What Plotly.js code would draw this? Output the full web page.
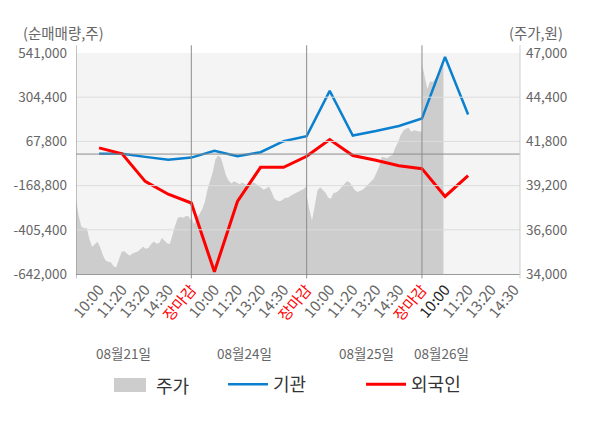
<!DOCTYPE html>
<html>
<head>
<meta charset="utf-8">
<script src="https://cdn.plot.ly/plotly-3.0.1.min.js"></script>
<style>
html, body { margin: 0; padding: 0; background: #fff; }
#chart { width: 600px; height: 428px; }
</style>
</head>
<body>
<div id="chart"></div>
<script>
// trading days and time labels on the x axis
var dayLabels = ['08월21일', '08월24일', '08월25일', '08월26일'];
var dayLabelPos = [0.41, 1.46, 2.52, 3.17];
var timeLabels = ['10:00', '11:20', '13:20', '14:30', '장마감'];

// intraday stock price (원), one array per day
var price0821 = [38400, 37420, 36780, 36690, 36700, 36050, 35610, 35750, 35900, 35580, 35120,
    34810, 34715, 34690, 34450, 34390, 34820, 35310, 35340, 35230, 35080, 35200, 35260, 35320,
    35450, 35600, 35490, 35530, 35750, 35910, 35800, 35810, 36120, 35980, 35810, 35770, 36340,
    36870, 37310, 37350, 37310, 37410, 37390, 37100];
var price0824 = [37420, 36930, 37330, 37500, 37800, 38200, 38960, 39480, 40000, 40750, 40970,
    40860, 40350, 39760, 39470, 39320, 39460, 39380, 39280, 39380, 39280, 39190, 39250, 39380,
    39320, 39170, 39090, 38950, 39040, 39140, 38800, 38420, 38310, 38280, 38350, 38490, 38490,
    38610, 38690, 38770, 38850, 38930, 39020, 39180];
var price0825 = [38600, 37810, 37150, 38000, 38900, 39110, 38920, 38790, 38500, 38430, 38770,
    38800, 38920, 39080, 39270, 39450, 39400, 39160, 38930, 38820, 38900, 38970, 39120, 39280,
    39440, 39610, 39940, 40310, 40900, 40860, 40810, 40930, 40980, 41430, 41720, 42150, 42430,
    42540, 42600, 42370, 42450, 42420, 42380, 42400];
var price0826 = [46400, 45600, 44880, 45330, 45300, 45500, 45700, 46100, 46400];

// net buying volume (주) at each time label
var instNet = [2000, 2000, -15000, -30000, -19000, 17000, -12000, 10000, 69000, 96000,
    338000, 99000, 123000, 150000, 191000, 520000, 212000];
var foreignNet = [33000, 1000, -146000, -215000, -262000, -630000, -254000, -71000, -71000,
    -12000, 78000, -8000, -33000, -62000, -78000, -227000, -116000];

var leftTicks = [-642000, -405400, -168800, 67800, 304400, 541000];
var rightTicks = [34000, 36600, 39200, 41800, 44400, 47000];

var fontFam = "'Noto Sans CJK KR', 'Noto Sans', sans-serif";
var xMax = 3.85;
var priceColor = '#cdcdcd';

// price area x positions: each full day spans one unit
var priceDays = [price0821, price0824, price0825, price0826];
var stepsPerDay = price0821.length - 1;
var priceX = [], priceY = [];
for (let d = 0; d < priceDays.length; d++) {
    for (let i = 0; i < priceDays[d].length; i++) {
        priceX.push(d + i / stepsPerDay);
        priceY.push(priceDays[d][i]);
    }
}

// tick labels, 장마감 sits on the day boundary
var tickVals = [], tickText = [];
for (let d = 0; d < dayLabels.length; d++) {
    for (let k = 0; k < timeLabels.length; k++) {
        var pos = d + (k + 1) / timeLabels.length;
        if (pos > xMax) continue;
        var txt = timeLabels[k];
        if (txt == '장마감') {
            txt = '<span style="color:#ff0000">' + txt + '</span>';
        } else if (d == dayLabels.length - 1 && k == 0) {
            txt = '<span style="color:#222">' + txt + '</span>';
        }
        tickVals.push(pos);
        tickText.push(txt);
    }
}
var lineX = tickVals.slice(0, instNet.length);

var fmt = function (v) { return v.toLocaleString('en-US'); };

// grid, zero line and day separators drawn over the price area
var shapes = [];
leftTicks.forEach(function (v, i) {
    if (i == 0 || i == leftTicks.length - 1) return;
    shapes.push({type: 'line', xref: 'paper', yref: 'y2', x0: 0, x1: 1, y0: v, y1: v,
        line: {color: '#dcdcdc', width: 1}, layer: 'above'});
});
shapes.push({type: 'line', xref: 'paper', yref: 'y2', x0: 0, x1: 1, y0: 0, y1: 0,
    line: {color: '#8c8c8c', width: 1}, layer: 'above'});
for (let d = 0; d < dayLabels.length; d++) {
    shapes.push({type: 'line', xref: 'x', yref: 'paper', x0: d, x1: d, y0: -0.02, y1: 1.035,
        line: {color: '#8c8c8c', width: 1}, layer: 'above'});
}
shapes.push({type: 'line', xref: 'paper', yref: 'paper', x0: 1, x1: 1, y0: -0.02, y1: 1.035,
    line: {color: '#cfcfcf', width: 1}, layer: 'above'});
// swatch for the price legend entry
shapes.push({type: 'rect', xref: 'paper', yref: 'paper', x0: 0.0856, x1: 0.1577,
    y0: -0.534, y1: -0.471, fillcolor: priceColor, line: {width: 0}});

var traces = [
    {
        x: priceX, y: priceY, yaxis: 'y', name: '주가',
        type: 'scatter', mode: 'lines', fill: 'tozeroy',
        fillcolor: priceColor, line: {width: 0, color: priceColor},
        showlegend: false, hoverinfo: 'skip'
    },
    {
        x: lineX, y: instNet, yaxis: 'y2', name: '기관',
        type: 'scatter', mode: 'lines',
        line: {color: '#0a80cf', width: 2.5}, legend: 'legend2', showlegend: true
    },
    {
        x: lineX, y: foreignNet, yaxis: 'y2', name: '외국인',
        type: 'scatter', mode: 'lines',
        line: {color: '#ff0000', width: 3}, legend: 'legend3', showlegend: true
    }
];

var legendBase = {
    orientation: 'h', yanchor: 'middle', y: -0.5, xanchor: 'left', itemwidth: 40,
    font: {family: fontFam, size: 18, color: '#333'}, bgcolor: 'rgba(0,0,0,0)'
};

var annotations = [
    {text: '(순매매량,주)', xref: 'paper', yref: 'paper', x: -0.125, y: 1.095,
        xanchor: 'left', yanchor: 'middle', showarrow: false,
        font: {family: fontFam, size: 14.5, color: '#666'}},
    {text: '(주가,원)', xref: 'paper', yref: 'paper', x: 0.97, y: 1.095,
        xanchor: 'left', yanchor: 'middle', showarrow: false,
        font: {family: fontFam, size: 14.5, color: '#666'}},
    {text: '주가', xref: 'paper', yref: 'paper', x: 0.176, y: -0.502,
        xanchor: 'left', yanchor: 'middle', showarrow: false,
        font: {family: fontFam, size: 18, color: '#333'}}
];
for (let d = 0; d < dayLabels.length; d++) {
    annotations.push({text: dayLabels[d], xref: 'x', yref: 'paper', x: dayLabelPos[d], y: -0.357,
        xanchor: 'center', yanchor: 'middle', showarrow: false,
        font: {family: fontFam, size: 13.5, color: '#666'}});
}

var layout = {
    width: 600, height: 428,
    margin: {l: 76, r: 80, t: 53, b: 154},
    paper_bgcolor: '#ffffff',
    plot_bgcolor: '#f4f4f4',
    font: {family: fontFam, color: '#666'},
    xaxis: {
        range: [0, xMax], tickvals: tickVals, ticktext: tickText, tickangle: -50,
        ticks: '', showgrid: false, zeroline: false,
        showline: true, linecolor: '#999', linewidth: 1,
        tickfont: {family: fontFam, size: 15, color: '#666'}
    },
    yaxis: {
        side: 'right', range: [34000, 47000], tickvals: rightTicks,
        ticktext: rightTicks.map(fmt), showgrid: false, zeroline: false,
        ticklabelstandoff: 5,
        tickfont: {family: fontFam, size: 13.5, color: '#666'}
    },
    yaxis2: {
        overlaying: 'y', side: 'left', range: [-642000, 541000], tickvals: leftTicks,
        ticktext: leftTicks.map(fmt), showgrid: false, zeroline: false,
        ticklabelstandoff: 8,
        tickfont: {family: fontFam, size: 13.5, color: '#666'}
    },
    legend2: Object.assign({}, legendBase, {x: 0.331}),
    legend3: Object.assign({}, legendBase, {x: 0.642}),
    shapes: shapes,
    annotations: annotations
};

Plotly.newPlot('chart', traces, layout, {displayModeBar: false, staticPlot: true});
</script>
</body>
</html>
